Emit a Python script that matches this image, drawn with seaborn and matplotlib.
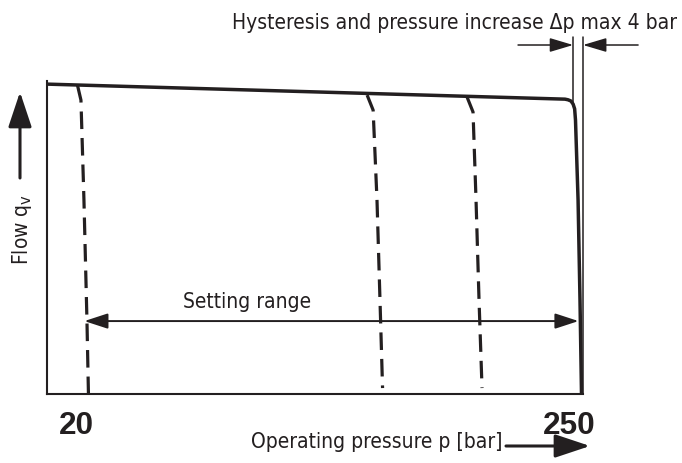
import matplotlib
matplotlib.use("Agg")
import matplotlib.pyplot as plt
import seaborn as sns
import pandas as pd
from matplotlib import font_manager
from matplotlib.transforms import ScaledTranslation

# ---------------- data (pressure in bar, flow in % of max) ----------------
main_p = [1.1, 242.5, 243.9, 245.3, 246.3, 247.0, 247.4, 248.6, 249.5, 250.2]
main_q = [99.0, 94.2, 94.0, 93.6, 92.6, 91.1, 87.5, 62.0, 30.0, 0.0]
set20_p = [15.1, 16.7, 18.1, 19.5, 20.2]
set20_q = [98.6, 93.9, 62.0, 23.6, 0.0]
setA_p = [150.2, 153.0, 154.8, 156.2, 157.4]
setA_q = [95.5, 90.7, 62.0, 30.0, 1.9]
setB_p = [196.8, 199.6, 201.0, 202.4, 203.8]
setB_q = [94.9, 90.1, 62.0, 30.0, 1.9]
tick_vals = [20, 250]
tick_labels = ["20", "250"]
range_p = [18.3, 248.8]
hyst_p = [246.3, 250.9]

title_text = "Hysteresis and pressure increase \u0394p max 4 bar"
xlabel_text = "Operating pressure p [bar]"
ylabel_text = r"Flow q$_{\mathrm{v}}$"
range_text = "Setting range"

ink = "#231f20"

sns.set_theme(style="white")
names = {f.name for f in font_manager.fontManager.ttflist}
if "Liberation Sans Narrow" in names:
    narrow, stretch = "Liberation Sans Narrow", "normal"
else:
    narrow, stretch = "DejaVu Sans", "condensed"
plt.rcParams["font.family"] = [narrow, "DejaVu Sans"]
plt.rcParams["mathtext.fontset"] = "custom"
plt.rcParams["mathtext.rm"] = narrow
plt.rcParams["mathtext.it"] = narrow

W, H = 682, 463
fig = plt.figure(figsize=(W / 100, H / 100), dpi=100)
ax = fig.add_axes([47.5 / W, (H - 394) / H, (583 - 47.5) / W, (394 - 81) / H])

main_df = pd.DataFrame({"p": main_p, "q": main_q})
sns.lineplot(data=main_df, x="p", y="q", sort=False, estimator=None, ax=ax,
             color=ink, lw=2.5, clip_on=False, solid_capstyle="butt")
for xs, ys in [(set20_p, set20_q), (setA_p, setA_q), (setB_p, setB_q)]:
    d = pd.DataFrame({"p": xs, "q": ys})
    sns.lineplot(data=d, x="p", y="q", sort=False, estimator=None, ax=ax,
                 color=ink, lw=2.3, dashes=False, clip_on=False)
    ax.lines[-1].set_dashes((5.5, 2.8))

ax.set_xlim(1.1, 250.9)
ax.set_ylim(0, 100)
ax.set_xlabel("")
ax.set_ylabel("")
ax.set_yticks([])
for s in ["top", "right"]:
    ax.spines[s].set_visible(False)
for s in ["left", "bottom"]:
    ax.spines[s].set_linewidth(1.5)
    ax.spines[s].set_color(ink)

ax.set_xticks(tick_vals)
ax.set_xticklabels(tick_labels, fontfamily=["Liberation Sans", "DejaVu Sans"],
                   fontweight="bold", fontsize=22.7, color=ink)
ax.tick_params(axis="x", length=0, pad=12.5)
off = ScaledTranslation(-12 / 100, 0, fig.dpi_scale_trans)
for lbl in ax.get_xticklabels():
    lbl.set_transform(lbl.get_transform() + off)

# hysteresis marker lines and arrows
ax.plot([hyst_p[0], hyst_p[0]], [114, 93], color=ink, lw=1.1, clip_on=False)
ax.plot([hyst_p[1], hyst_p[1]], [114, 0], color=ink, lw=1.1, clip_on=False)
hy = 111.5
ax.annotate("", xy=(hyst_p[0], hy), xytext=(220.6, hy), annotation_clip=False,
            arrowprops=dict(arrowstyle="-|>,head_length=1.44,head_width=0.43",
                            mutation_scale=10, lw=1.1, color=ink, shrinkA=0, shrinkB=0))
ax.annotate("", xy=(hyst_p[1], hy), xytext=(276.6, hy), annotation_clip=False,
            arrowprops=dict(arrowstyle="-|>,head_length=1.44,head_width=0.43",
                            mutation_scale=10, lw=1.1, color=ink, shrinkA=0, shrinkB=0))

# setting range arrow
ry = 23.3
ax.annotate("", xy=(range_p[0], ry), xytext=(range_p[1], ry), annotation_clip=False,
            arrowprops=dict(arrowstyle="<|-|>,head_length=1.44,head_width=0.47",
                            mutation_scale=10, lw=1.4, color=ink, shrinkA=0, shrinkB=0))

fs = 15
fig.text(247 / W, 1 - 308 / H, range_text, ha="center", va="baseline",
         fontsize=fs, color=ink, fontstretch=stretch)
fig.text(455 / W, 1 - 29 / H, title_text, ha="center", va="baseline",
         fontsize=fs, color=ink, fontstretch=stretch)
fig.text(377 / W, 1 - 448 / H, xlabel_text, ha="center", va="baseline",
         fontsize=fs, color=ink, fontstretch=stretch)
fig.text(22 / W, 1 - 229 / H, ylabel_text, ha="center", va="center", rotation=90,
         fontsize=fs, color=ink, fontstretch=stretch)

# axis direction arrows
fig.add_artist(matplotlib.patches.FancyArrowPatch(
    (506 / W, 1 - 446 / H), (590 / W, 1 - 446 / H), transform=fig.transFigure,
    arrowstyle="-|>,head_length=2.16,head_width=0.72", mutation_scale=10,
    lw=2.2, color=ink, shrinkA=0, shrinkB=0))
fig.add_artist(matplotlib.patches.FancyArrowPatch(
    (20 / W, 1 - 178 / H), (20 / W, 1 - 92 / H), transform=fig.transFigure,
    arrowstyle="-|>,head_length=2.16,head_width=0.72", mutation_scale=10,
    lw=2.2, color=ink, shrinkA=0, shrinkB=0))

fig.savefig("out.png", dpi=100)
